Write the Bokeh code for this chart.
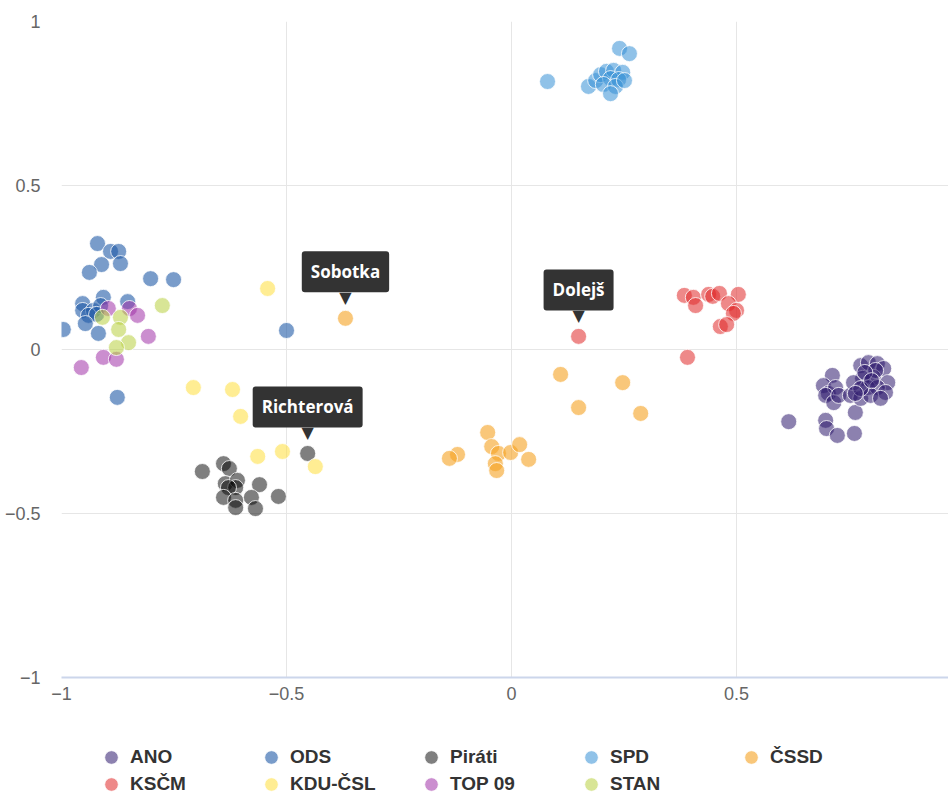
from bokeh.plotting import figure
from bokeh.models import Range1d, FixedTicker, Legend, LegendItem, Label
from bokeh.layouts import column
from bokeh.embed import file_html
from bokeh.resources import INLINE

# ---------------- data ----------------
parties = ["ANO", "ODS", "Piráti", "SPD", "ČSSD", "KSČM", "KDU-ČSL", "TOP 09", "STAN"]

ano_x = [0.616, 0.698, 0.700, 0.724, 0.762, 0.764, 0.713, 0.693, 0.704, 0.720, 0.698, 0.716,
         0.727, 0.753, 0.776, 0.776, 0.793, 0.813, 0.827, 0.804, 0.780, 0.760, 0.836, 0.791,
         0.813, 0.831, 0.798, 0.776, 0.820, 0.764, 0.809, 0.785, 0.800]
ano_y = [-0.220, -0.216, -0.241, -0.262, -0.256, -0.192, -0.079, -0.110, -0.134, -0.116, -0.140, -0.162,
         -0.140, -0.140, -0.149, -0.049, -0.040, -0.043, -0.058, -0.085, -0.088, -0.101, -0.101, -0.116,
         -0.116, -0.131, -0.140, -0.119, -0.149, -0.134, -0.064, -0.070, -0.095]

ods_x = [-0.920, -0.891, -0.873, -0.911, -0.869, -0.938, -0.802, -0.751, -0.953, -0.907, -0.853,
         -0.953, -0.929, -0.913, -0.940, -0.922, -0.947, -0.918, -0.996, -0.876, -0.500]
ods_y = [0.323, 0.299, 0.299, 0.259, 0.262, 0.235, 0.216, 0.213, 0.140, 0.159, 0.146,
         0.119, 0.119, 0.134, 0.104, 0.107, 0.079, 0.049, 0.061, -0.146, 0.058]

pir_x = [-0.453, -0.687, -0.640, -0.627, -0.636, -0.609, -0.613, -0.629, -0.560, -0.640,
         -0.613, -0.578, -0.613, -0.569, -0.518]
pir_y = [-0.317, -0.372, -0.348, -0.363, -0.409, -0.399, -0.421, -0.421, -0.412, -0.451,
         -0.460, -0.451, -0.482, -0.485, -0.448]

spd_x = [0.080, 0.240, 0.262, 0.171, 0.187, 0.198, 0.211, 0.227, 0.247, 0.220, 0.238,
         0.204, 0.231, 0.251, 0.220]
spd_y = [0.817, 0.918, 0.902, 0.802, 0.820, 0.838, 0.848, 0.851, 0.845, 0.826, 0.823,
         0.808, 0.802, 0.820, 0.780]

cssd_x = [-0.369, 0.109, 0.247, 0.149, 0.287, -0.053, -0.044, -0.029, -0.002, 0.018,
          0.038, -0.120, -0.138, -0.036, -0.033]
cssd_y = [0.095, -0.076, -0.101, -0.177, -0.195, -0.253, -0.296, -0.317, -0.314, -0.290,
          -0.335, -0.320, -0.332, -0.348, -0.369]

kscm_x = [0.149, 0.384, 0.404, 0.409, 0.438, 0.447, 0.462, 0.504, 0.482, 0.500, 0.493,
          0.464, 0.478, 0.391]
kscm_y = [0.040, 0.165, 0.159, 0.134, 0.168, 0.162, 0.171, 0.168, 0.140, 0.119, 0.110,
          0.070, 0.076, -0.024]

kdu_x = [-0.542, -0.707, -0.620, -0.602, -0.540, -0.564, -0.509, -0.436]
kdu_y = [0.186, -0.116, -0.122, -0.204, -0.201, -0.326, -0.311, -0.357]

top_x = [-0.896, -0.849, -0.831, -0.807, -0.907, -0.878, -0.956]
top_y = [0.125, 0.125, 0.104, 0.040, -0.024, -0.030, -0.055]

stan_x = [-0.776, -0.909, -0.869, -0.873, -0.851, -0.878]
stan_y = [0.134, 0.098, 0.098, 0.061, 0.021, 0.006]

series_x = [ano_x, ods_x, pir_x, spd_x, cssd_x, kscm_x, kdu_x, top_x, stan_x]
series_y = [ano_y, ods_y, pir_y, spd_y, cssd_y, kscm_y, kdu_y, top_y, stan_y]

colors = ["#2e1a6e", "#1f5aa6", "#000000", "#3590d5", "#f5a121",
          "#e02828", "#ffde3a", "#a032a8", "#b8d040"]
alphas = [0.55, 0.6, 0.5, 0.55, 0.6, 0.55, 0.55, 0.55, 0.55]

# labelled points: (name, party, index in that party's arrays)
callouts = [("Sobotka", "ČSSD", 0), ("Richterová", "Piráti", 0), ("Dolejš", "KSČM", 0)]

x_ticks = [-1, -0.5, 0, 0.5]
y_ticks = [-1, -0.5, 0, 0.5, 1]

# ---------------- main figure ----------------
p = figure(width=948, height=720, output_backend="svg", toolbar_location=None,
           x_range=Range1d(-1, 0.971), y_range=Range1d(-1, 1),
           min_border_left=61, min_border_top=21, min_border_right=0, min_border_bottom=43)
p.outline_line_color = None
p.background_fill_color = "white"

for ax in (p.xaxis[0], p.yaxis[0]):
    ax.major_tick_line_color = None
    ax.minor_tick_line_color = None
    ax.major_tick_out = 0
    ax.major_tick_in = 0
    ax.minor_tick_out = 0
    ax.minor_tick_in = 0
    ax.major_label_text_font = "Liberation Sans"
    ax.major_label_text_font_size = "18px"
    ax.major_label_text_color = "#666666"

p.xaxis.ticker = FixedTicker(ticks=x_ticks)
p.yaxis.ticker = FixedTicker(ticks=y_ticks)
p.xaxis.axis_line_color = "#ccd6eb"
p.xaxis.axis_line_width = 2
p.xaxis.major_label_standoff = 9
p.yaxis.axis_line_color = None
p.yaxis.major_label_standoff = 21

p.xgrid.ticker = FixedTicker(ticks=x_ticks)
p.ygrid.ticker = FixedTicker(ticks=y_ticks)
p.xgrid.grid_line_color = "#e6e6e6"
p.ygrid.grid_line_color = "#e6e6e6"

style = {}
for name, xs, ys, c, a in zip(parties, series_x, series_y, colors, alphas):
    style[name] = dict(size=16, fill_color=c, fill_alpha=a,
                       line_color="white", line_width=1, line_alpha=0.8)
    p.scatter(xs, ys, **style[name])

for name, party, idx in callouts:
    k = parties.index(party)
    px_, py_ = series_x[k][idx], series_y[k][idx]
    p.add_layout(Label(x=px_, y=py_, text="▼", text_align="center", text_baseline="middle",
                       y_offset=21, text_color="#333333", text_font_size="16px",
                       text_font="DejaVu Sans"))
    p.add_layout(Label(x=px_, y=py_, text=name, text_align="center", text_baseline="bottom",
                       y_offset=26, text_color="white", text_font="Open Sans",
                       text_font_style="bold", text_font_size="17px",
                       background_fill_color="#333333", background_fill_alpha=1.0,
                       padding=9, border_radius=3))

# ---------------- legend strip ----------------
lg = figure(width=948, height=74, output_backend="svg", toolbar_location=None,
            x_range=Range1d(0, 1), y_range=Range1d(0, 1),
            min_border_left=0, min_border_right=0, min_border_top=0, min_border_bottom=0)
lg.axis.visible = False
lg.grid.visible = False
lg.outline_line_color = None

nan = float("nan")
legend_renderers = {n: lg.scatter(x=[nan], y=[nan], **style[n]) for n in parties}

rows = [parties[:5], parties[5:]]
row_locations = [(33, 20), (33, -7)]
for names, loc in zip(rows, row_locations):
    leg = Legend(items=[LegendItem(label=n, renderers=[legend_renderers[n]]) for n in names],
                 orientation="horizontal", location=loc,
                 glyph_width=34, glyph_height=34, label_standoff=2, label_width=124,
                 spacing=0, padding=0, margin=0,
                 border_line_color=None, background_fill_alpha=0,
                 label_text_font="Liberation Sans", label_text_font_style="bold",
                 label_text_font_size="19px", label_text_color="#333333")
    lg.add_layout(leg, "center")

open("out.html", "w").write(file_html(column(p, lg, spacing=0), INLINE))
